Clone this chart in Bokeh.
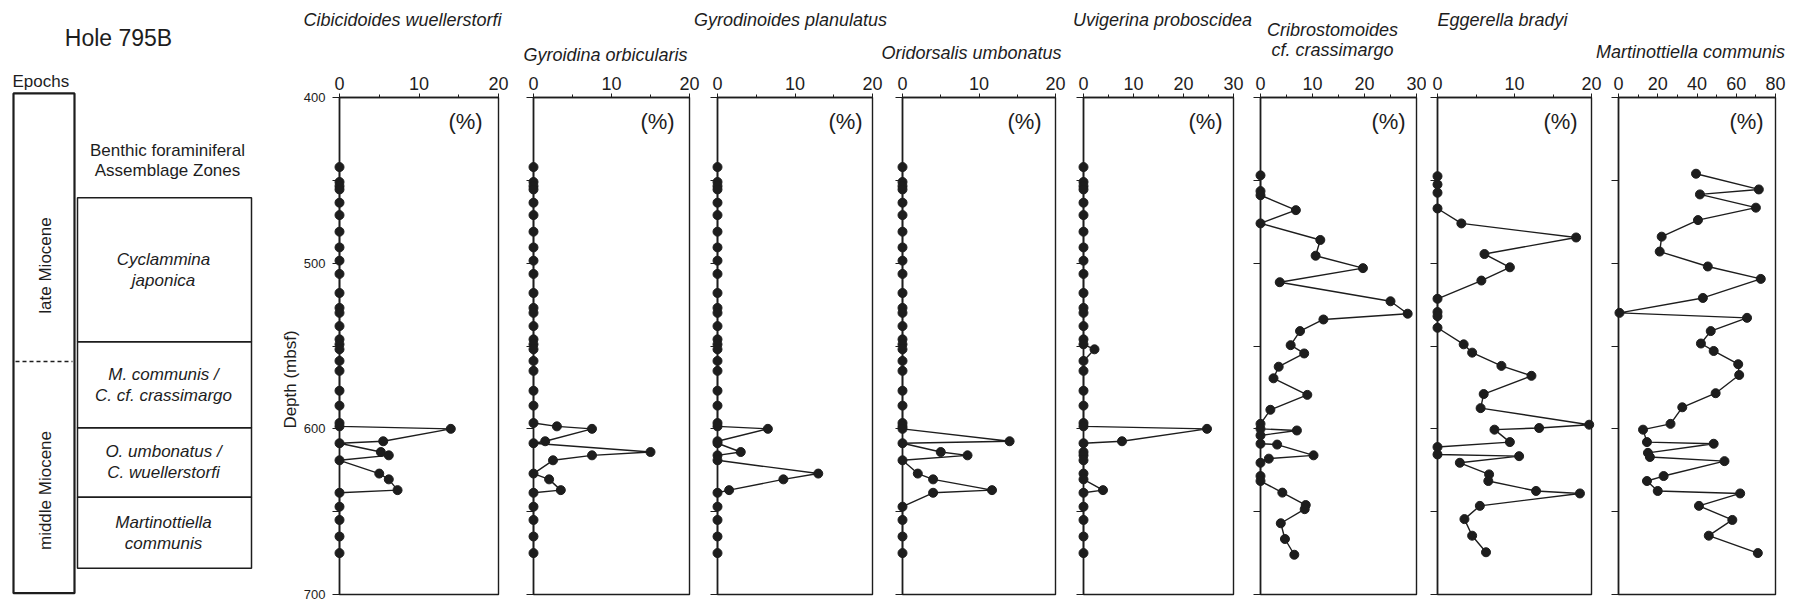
from math import pi

from bokeh.plotting import figure
from bokeh.layouts import row, column
from bokeh.models import Range1d, FixedTicker, Label
from bokeh.embed import file_html
from bokeh.resources import INLINE
from bokeh.core.properties import value

FONT = "Liberation Sans"
INK = "#1d1d1d"
PAGE_W, PAGE_H = 1808, 608
COL_W = 300            # width of the stratigraphic column (incl. the depth title)
HEAD_H = 65            # strip holding the species names
FRAME_TOP = 97         # page y of the 400 m line in the panels
FRAME_H = 497          # 400 m -> 700 m

# ---------------------------------------------------------------- data
# Sample depths (mbsf) for the species that occur only sporadically
depth = [442, 451, 453.5, 455.5, 463.5, 471, 481, 490.5, 498.5, 506.5,
         518, 527, 530, 538, 546, 549, 552, 559, 565, 577,
         586, 596.5, 598.5, 600, 607.5, 608.7, 614, 616, 619, 627,
         630.5, 637, 638.6, 647, 655, 665, 675]

cibicidoides = [0, 0, 0, 0, 0, 0, 0, 0, 0, 0,
                0, 0, 0, 0, 0, 0, 0, 0, 0, 0,
                0, 0, 0, 14, 5.5, 0, 5.2, 6.2, 0, 5.0,
                6.2, 7.3, 0, 0, 0, 0, 0]
gyroidina = [0, 0, 0, 0, 0, 0, 0, 0, 0, 0,
             0, 0, 0, 0, 0, 0, 0, 0, 0, 0,
             0, 0, 3, 7.5, 1.5, 0, 15, 7.5, 2.5, 0,
             2, 3.5, 0, 0, 0, 0, 0]
gyrodinoides = [0, 0, 0, 0, 0, 0, 0, 0, 0, 0,
                0, 0, 0, 0, 0, 0, 0, 0, 0, 0,
                0, 0, 0, 6.5, 0, 0, 3, 0, 0, 13,
                8.5, 1.5, 0, 0, 0, 0, 0]
oridorsalis = [0, 0, 0, 0, 0, 0, 0, 0, 0, 0,
               0, 0, 0, 0, 0, 0, 0, 0, 0, 0,
               0, 0, 0, 0, 14, 0, 5, 8.5, 0, 2,
               4, 11.7, 4, 0, 0, 0, 0]
uvigerina = [0, 0, 0, 0, 0, 0, 0, 0, 0, 0,
             0, 0, 0, 0, 0, 0, 2.2, 0, 0, 0,
             0, 0, 0, 24.7, 7.7, 0, 0, 0, 0, 0,
             0, 3.9, 0, 0, 0, 0, 0]

cribro_depth = [447, 456.5, 459, 468, 476, 486, 495.5, 503, 511.5, 523,
                530.5, 534, 541, 549.5, 554.5, 562.5, 569.5, 579.5, 588.5, 597,
                600, 601, 604, 609, 609.5, 616, 618, 620.5, 628.5, 631.5,
                638.5, 646, 648.5, 657, 666.5, 676]
cribro = [0, 0, 0, 6.8, 0, 11.5, 10.6, 19.7, 3.7, 25,
          28.3, 12.1, 7.6, 5.8, 8.4, 3.5, 2.5, 9, 1.9, 0,
          0, 7, 0, 0, 3.2, 10.2, 1.6, 0, 0, 0,
          4.2, 8.7, 8.5, 3.9, 4.7, 6.5]

eggerella_depth = [447.5, 452.5, 457.5, 467, 476, 484.5, 494.5, 502.5, 510.5, 521.5,
                   529.5, 532, 539, 549, 554, 562, 568, 579, 587.5, 597.5,
                   599.5, 600.5, 608, 611, 615.5, 616.5, 620.5, 627.5, 631.5, 637.5,
                   639, 646.5, 654.5, 664.5, 674.5]
eggerella = [0, 0, 0, 0, 3.1, 18, 6.1, 9.4, 5.7, 0,
             0, 0, 0, 3.4, 4.5, 8.3, 12.2, 6, 5.6, 19.7,
             13.2, 7.4, 9.4, 0, 0, 10.6, 2.9, 6.7, 6.6, 12.8,
             18.5, 5.5, 3.5, 4.5, 6.3]

martino_depth = [446, 455.5, 458.5, 466.5, 474, 484, 493, 502, 509.5, 521,
                 530, 533, 541, 548.5, 553, 561, 567.5, 578.5, 587, 597,
                 600.5, 608, 609, 614.5, 617, 619.5, 628.5, 631.5, 637.5, 639,
                 646.5, 655, 664.5, 675]
martino = [39.5, 71.5, 41.5, 70, 40.5, 22, 21, 45.5, 72.5, 43,
           0.5, 65.5, 47, 42, 48.5, 61, 61.5, 49.5, 32.5, 26.5,
           12.5, 14.5, 48.5, 15, 16, 54, 23, 14.5, 20, 62,
           41, 58, 46, 71]

epoch_names = ["late Miocene", "middle Miocene"]
epoch_top = [396, 558]
epoch_base = [558, 698]

zone_names = [["Cyclammina", "japonica"],
              ["M. communis /", "C. cf. crassimargo"],
              ["O. umbonatus /", "C. wuellerstorfi"],
              ["Martinottiella", "communis"]]
zone_top = [459, 546, 598, 640]
zone_base = [546, 598, 640, 683]

# ---------------------------------------------------------------- panels
# fig: page x-extent of the figure, frame: page x-extent of the plot box,
# tpos: page position of the name (centre x, line centres y), pct: "(%)" inset from the right
panels = [
    dict(title=["Cibicidoides wuellerstorfi"], tpos=(402, [19]), d=depth, v=cibicidoides,
         xmax=20, major=[0, 10, 20], minor=[5, 15], fig=(COL_W, 515), frame=(337, 498), pct=35),
    dict(title=["Gyroidina orbicularis"], tpos=(605, [54]), d=depth, v=gyroidina,
         xmax=20, major=[0, 10, 20], minor=[5, 15], fig=(515, 702), frame=(533, 689), pct=32),
    dict(title=["Gyrodinoides planulatus"], tpos=(790, [19]), d=depth, v=gyrodinoides,
         xmax=20, major=[0, 10, 20], minor=[5, 15], fig=(702, 887), frame=(717, 872), pct=27),
    dict(title=["Oridorsalis umbonatus"], tpos=(971, [52]), d=depth, v=oridorsalis,
         xmax=20, major=[0, 10, 20], minor=[5, 15], fig=(887, 1068), frame=(902, 1055), pct=31),
    dict(title=["Uvigerina proboscidea"], tpos=(1162, [19]), d=depth, v=uvigerina,
         xmax=30, major=[0, 10, 20, 30], minor=[5, 15, 25], fig=(1068, 1246), frame=(1083, 1233), pct=28),
    dict(title=["Cribrostomoides", "cf. crassimargo"], tpos=(1332, [29, 49]), d=cribro_depth, v=cribro,
         xmax=30, major=[0, 10, 20, 30], minor=[5, 15, 25], fig=(1246, 1426), frame=(1260, 1416), pct=28),
    dict(title=["Eggerella bradyi"], tpos=(1502, [19]), d=eggerella_depth, v=eggerella,
         xmax=20, major=[0, 10, 20], minor=[5, 15], fig=(1426, 1603), frame=(1437, 1591), pct=31),
    dict(title=["Martinottiella communis"], tpos=(1690, [51]), d=martino_depth, v=martino,
         xmax=80, major=[0, 20, 40, 60, 80], minor=[10, 30, 50, 70], fig=(1603, 1808), frame=(1618, 1775), pct=29),
]

ROW_H = PAGE_H - HEAD_H
BORDER_TOP = FRAME_TOP - HEAD_H
BORDER_BOTTOM = ROW_H - BORDER_TOP - FRAME_H


def make_panel(cfg, first):
    f0, f1 = cfg["fig"]
    x0, x1 = cfg["frame"]
    p = figure(width=f1 - f0, height=ROW_H, x_range=Range1d(0, cfg["xmax"]), y_range=Range1d(700, 400),
               x_axis_location="above", y_axis_location="left", title=None,
               output_backend="svg", toolbar_location=None,
               min_border_left=x0 - f0, min_border_right=f1 - x1,
               min_border_top=BORDER_TOP, min_border_bottom=BORDER_BOTTOM)
    p.background_fill_color = "white"
    p.border_fill_color = "white"
    p.outline_line_color = INK
    p.outline_line_width = 1.4
    p.xgrid.visible = False
    p.ygrid.visible = False

    xa = p.xaxis[0]
    xa.ticker = FixedTicker(ticks=cfg["major"], minor_ticks=cfg["minor"])
    xa.axis_line_color = INK
    xa.axis_line_width = 1.5
    xa.major_tick_line_color = INK
    xa.minor_tick_line_color = INK
    xa.major_tick_in = 0
    xa.major_tick_out = 4
    xa.minor_tick_in = 0
    xa.minor_tick_out = 3
    xa.major_label_standoff = 4
    xa.major_label_text_font = FONT
    xa.major_label_text_font_size = "18px"
    xa.major_label_text_color = INK

    ya = p.yaxis[0]
    ya.axis_line_color = INK
    ya.axis_line_width = 1.5
    ya.major_tick_line_color = INK
    ya.minor_tick_line_color = INK
    ya.major_tick_in = 0
    ya.major_tick_out = 7
    ya.minor_tick_in = 0
    ya.minor_tick_out = 7
    if first:
        ya.ticker = FixedTicker(ticks=[400, 500, 600, 700], minor_ticks=[450, 550, 650])
        ya.major_label_standoff = 7
        ya.major_label_text_font = FONT
        ya.major_label_text_font_size = "13px"
        ya.major_label_text_color = INK
    else:
        # depth ticks every 50 m, unlabelled
        ya.ticker = FixedTicker(ticks=[400, 450, 500, 550, 600, 650, 700])
        ya.major_label_standoff = 0
        ya.major_label_text_font_size = "1px"
        ya.major_label_text_color = None

    p.line(cfg["v"], cfg["d"], line_color=INK, line_width=1.4, level="overlay")
    p.scatter(cfg["v"], cfg["d"], size=9, fill_color=INK, line_color=INK, level="overlay")

    p.add_layout(Label(x=(x1 - x0) - cfg["pct"], y=FRAME_H - 24, x_units="screen", y_units="screen",
                       text="(%)", text_font=FONT, text_font_size="22px", text_color=INK,
                       text_align="center", text_baseline="middle"))
    return p


# ---------------------------------------------------------------- species names strip
head = figure(width=PAGE_W - COL_W, height=HEAD_H, x_range=Range1d(0, PAGE_W - COL_W),
              y_range=Range1d(0, HEAD_H), x_axis_location=None, y_axis_location=None, title=None,
              output_backend="svg", toolbar_location=None,
              min_border_left=0, min_border_right=0, min_border_top=0, min_border_bottom=0)
head.outline_line_color = None
head.xgrid.visible = False
head.ygrid.visible = False
head.background_fill_color = "white"
head.border_fill_color = "white"
for cfg in panels:
    cx, cys = cfg["tpos"]
    for line, cy in zip(cfg["title"], cys):
        head.add_layout(Label(x=cx - COL_W, y=HEAD_H - cy, x_units="screen", y_units="screen",
                              text=line, text_font=FONT, text_font_size="18px", text_font_style="italic",
                              text_color=INK, text_align="center", text_baseline="middle"))

# ---------------------------------------------------------------- stratigraphic column
px_per_m = 496.5 / 300.0
y400 = 99.5
col = figure(width=COL_W, height=PAGE_H, x_range=Range1d(0, COL_W),
             y_range=Range1d(700 + (PAGE_H - y400 - 496.5) / px_per_m, 400 - y400 / px_per_m),
             x_axis_location=None, y_axis_location=None, title=None,
             output_backend="svg", toolbar_location=None,
             min_border_left=0, min_border_right=0, min_border_top=0, min_border_bottom=0)
col.outline_line_color = None
col.xgrid.visible = False
col.ygrid.visible = False
col.background_fill_color = "white"
col.border_fill_color = "white"

# epoch column with dashed boundary
col.quad(left=[13], right=[74], top=[epoch_top[0]], bottom=[epoch_base[-1]],
         fill_color=None, line_color=INK, line_width=2.2)
col.segment(x0=[15], x1=[72], y0=[epoch_base[0]], y1=[epoch_base[0]],
            line_color=INK, line_width=1.4, line_dash="4 3")

# assemblage zones
col.quad(left=77, right=251, top=zone_top, bottom=zone_base,
         fill_color=None, line_color=INK, line_width=1.5)
zx, zy, zt, zoff = [], [], [], []
for names, t, b in zip(zone_names, zone_top, zone_base):
    mid = (t + b) / 2.0
    for k, nm in enumerate(names):
        zx.append(163)
        zy.append(mid)
        zt.append(nm)
        zoff.append(-10.5 if k == 0 else 10.5)
col.text(x=zx, y=zy, text=zt, y_offset=zoff, text_font=value(FONT), text_font_size="17px",
         text_font_style="italic", text_color=INK, text_align="center", text_baseline="middle")


def col_label(text, x, y, size, align="center", angle=0.0):
    col.add_layout(Label(x=x, y=PAGE_H - y, x_units="screen", y_units="screen", text=text,
                         text_font=FONT, text_font_size=size, text_color=INK,
                         text_align=align, text_baseline="middle", angle=angle))


col_label("Hole 795B", 118, 37, "23px")
col_label("Epochs", 12, 81, "17px", align="left")
col_label("Benthic foraminiferal", 167, 150, "17px")
col_label("Assemblage Zones", 167, 170, "17px")
col_label(epoch_names[0], 45, 265, "17px", angle=pi / 2)
col_label(epoch_names[1], 45, 490, "17px", angle=pi / 2)
col_label("Depth (mbsf)", 290, 379, "17px", angle=pi / 2)

panel_row = row(*[make_panel(cfg, i == 0) for i, cfg in enumerate(panels)], spacing=0)
layout = row(col, column(head, panel_row, spacing=0), spacing=0)

open("out.html", "w").write(file_html(layout, INLINE, "Hole 795B benthic foraminifera"))
